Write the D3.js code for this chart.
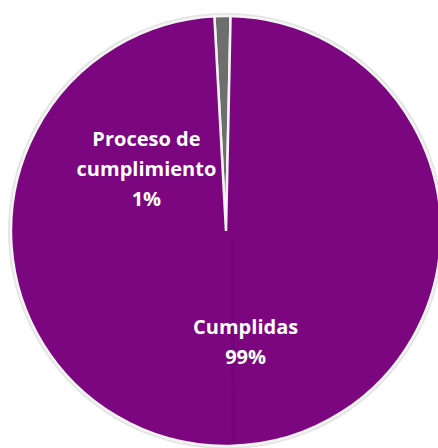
<!DOCTYPE html>
<html>
<head>
<meta charset="utf-8">
<script src="https://cdn.jsdelivr.net/npm/d3@7"></script>
<style>
  body { margin: 0; background: #fff; }
  text { font-family: "Open Sans", sans-serif; font-weight: 700; fill: #fff; }
</style>
</head>
<body>
<div id="chart"></div>
<script>
const width = 438;
const height = 448;

const categories = ["Proceso de cumplimiento", "Cumplidas"];
const values = [1.2, 98.8];
const pctLabels = ["1%", "99%"];
const colors = ["#6e6e6e", "#7b0680"];

const cx = 226, cy = 231, radius = 215;

const svg = d3.select("#chart")
  .append("svg")
  .attr("width", width)
  .attr("height", height);

const g = svg.append("g").attr("transform", `translate(${cx},${cy})`);

const startOffset = -3.1 * Math.PI / 180;
const pie = d3.pie()
  .sort(null)
  .startAngle(startOffset)
  .endAngle(startOffset + 2 * Math.PI);

const arcs = pie(values);
const arc = d3.arc().innerRadius(0).outerRadius(radius);

// soft halo round the pie
g.append("circle")
  .attr("r", radius + 1.5)
  .attr("fill", "none")
  .attr("stroke", "#e4e4e4")
  .attr("stroke-width", 3);

g.selectAll("path.slice")
  .data(arcs)
  .enter()
  .append("path")
  .attr("class", "slice")
  .attr("d", arc)
  .attr("fill", (d, i) => colors[i])
  .attr("stroke", "#f4f4f4")
  .attr("stroke-width", 2.5);

// faint seam down the lower half
const seamEnd = d3.pointRadial(Math.PI - 0.035, radius - 2);
g.append("line")
  .attr("x1", 6).attr("y1", 8)
  .attr("x2", seamEnd[0]).attr("y2", seamEnd[1])
  .attr("stroke", "#6f0574")
  .attr("stroke-width", 4)
  .attr("opacity", 0.6);

// label placement: angle (deg) and distance from centre
const labelPos = [[-52, 101], [170, 113]];
const lines = [
  ["Proceso de", "cumplimiento", pctLabels[0]],
  [categories[1], pctLabels[1]],
];

lines.forEach(function (ls, i) {
  const p = d3.pointRadial(labelPos[i][0] * Math.PI / 180, labelPos[i][1]);
  const lh = 30;
  const t = g.append("text")
    .attr("text-anchor", "middle")
    .attr("font-size", 20);
  ls.forEach(function (s, j) {
    t.append("tspan")
      .attr("x", p[0])
      .attr("y", p[1] + (j - (ls.length - 1) / 2) * lh + 7)
      .text(s);
  });
});
</script>
</body>
</html>
